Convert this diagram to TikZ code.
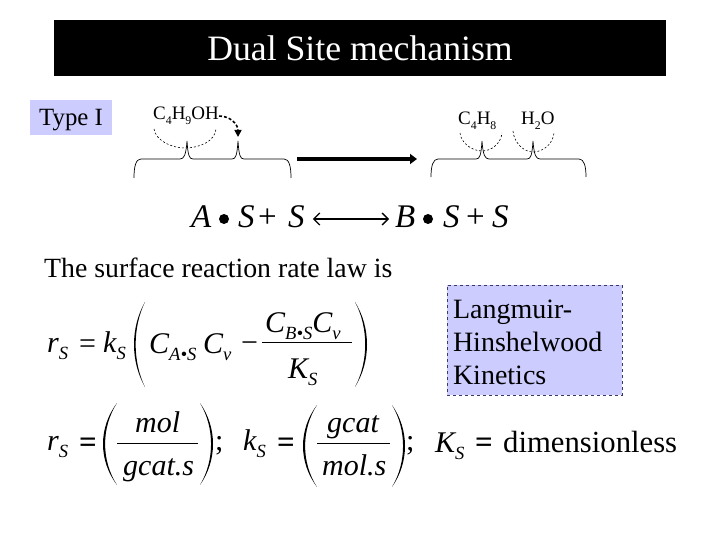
\documentclass[tikz,border=0pt]{standalone}
\usepackage{fontspec}
\setmainfont{Liberation Serif}
\usepackage{tikz}
\usetikzlibrary{calc,arrows.meta}
\definecolor{site-fill}{HTML}{CCCCFF}
\definecolor{site-edge}{HTML}{3A3A66}
\newcommand{\lowsub}[2][0.62]{\raisebox{-0.24em}{\scalebox{#1}{#2}}}
\newcommand{\tallparen}[4]{\fill (#1,#3) .. controls ($(#1,#3)!0.3!(#1,#4)+({(#2-#1)/0.75},0)$) and ($(#1,#3)!0.7!(#1,#4)+({(#2-#1)/0.75},0)$) .. (#1,#4) .. controls ($(#1,#3)!0.7!(#1,#4)+({(#2-#1)/0.75-(#2-#1)*0.2},0)$) and ($(#1,#3)!0.3!(#1,#4)+({(#2-#1)/0.75-(#2-#1)*0.2},0)$) .. (#1,#3) -- cycle;}
\tikzset{
    txt/.style={anchor=base west, inner sep=0pt, font=\fontsize{#1}{#1}\selectfont},
    eqn/.style={anchor=base west, inner sep=0pt, font=\fontsize{30}{30}\selectfont\itshape},
    rxn/.style={anchor=base west, inner sep=0pt, font=\fontsize{33}{33}\selectfont\itshape},
    heavy/.style={anchor=base west, inner sep=0pt, font=\fontsize{31}{31}\selectfont\bfseries},
    brace/.style={line width=0.7pt},
    arcdash/.style={line width=0.6pt, dash pattern=on 2pt off 2pt},
    fracbar/.style={line width=1pt},
}
\begin{document}
\begin{tikzpicture}[x=1pt,y=-1pt]
    \useasboundingbox (0,0) rectangle (720,540);
    \node[fill=black, text=white, inner sep=0pt, minimum width=612pt, minimum height=56pt, font=\fontsize{35.7}{36}\selectfont] (banner) at (360,48) {Dual Site mechanism};
    \node[fill=site-fill, inner sep=0pt, minimum width=82pt, minimum height=35pt, text height=22pt, text depth=6pt, font=\fontsize{24.8}{25}\selectfont] (typebox) at (71,117.5) {Type I};

    \node[txt=19] (alcohol) at (153,120) {C\lowsub{4}H\lowsub{9}OH};
    \node[txt=19] (butene) at (458,125) {C\lowsub{4}H\lowsub{8}};
    \node[txt=19] (water) at (521,125) {H\lowsub{2}O};

    \draw[arcdash] (154,129) .. controls (156,141) and (172,148) .. (185,148) .. controls (200,148) and (215,141) .. (216,129);
    \draw[arcdash] (460,133) .. controls (461,143) and (472,151) .. (482,151) .. controls (492,151) and (501,143) .. (502,133);
    \draw[arcdash] (513,131) .. controls (514,143) and (524,152) .. (533,152) .. controls (543,152) and (553,144) .. (554,133);

    \coordinate (sitepeak) at (238,137);
    \draw[line width=1.6pt, dash pattern=on 3pt off 2pt, -{Triangle[length=7pt,width=7pt]}] (alcohol.east) .. controls (230,116) and (238,124) .. (sitepeak);

    \draw[brace] (134,178) .. controls (134,166) and (136,159) .. (141,159) -- (180,159) .. controls (184,159) and (186,155) .. (187,141) .. controls (188,155) and (189,159) .. (193,159) -- (232,159) .. controls (236,159) and (237,155) .. (238,141) .. controls (239,155) and (240,159) .. (244,159) -- (284,159) .. controls (289,159) and (291,166) .. (291,178);
    \draw[brace] (431,177) .. controls (431,166) and (433,159) .. (438,159) -- (476,159) .. controls (480,159) and (481,155) .. (482,141) .. controls (483,155) and (485,159) .. (489,159) -- (527,159) .. controls (531,159) and (532,155) .. (533,141) .. controls (534,155) and (536,159) .. (540,159) -- (579,159) .. controls (584,159) and (586,166) .. (586,177);

    \coordinate (boldstart) at (297,159);
    \coordinate (boldend) at (417,159);
    \draw[line width=4pt, -{Triangle[length=7pt,width=10pt]}] (boldstart) -- (boldend);

    \node[rxn] (reacta) at (191,227) {A};
    \fill (224,219) circle (5);
    \node[rxn] (reacts) at (238,227) {S};
    \node[txt=33] (reactplus) at (258,227) {+};
    \node[rxn] (reactv) at (288,227) {S};
    \node[rxn] (prodb) at (395,227) {B};
    \fill (428,219) circle (5);
    \node[rxn] (prods) at (443,227) {S};
    \node[txt=33] (prodplus) at (466,227) {+};
    \node[rxn] (prodv) at (492,227) {S};
    \draw[line width=1.3pt, {Straight Barb[length=6pt,width=12pt]}-{Straight Barb[length=6pt,width=12pt]}] ($(reactv.east |- 0,219)+(8,0)$) -- ($(prodb.west |- 0,219)+(-6,0)$);

    \node[txt=27.8] (ratetext) at (44,277) {The surface reaction rate law is};

    \node[draw=site-edge, dashed, fill=site-fill, inner sep=0pt, minimum width=175pt, minimum height=110pt, text width=163pt, align=left, font=\fontsize{28}{33}\selectfont] (lhbox) at (534.5,340) {\rule{0pt}{24pt}Langmuir-\\Hinshelwood\\Kinetics};

    \node[eqn] (rone) at (47,352) {r\lowsub{S}};
    \node[txt=30] (eqone) at (79,353) {=};
    \node[eqn] (kone) at (103,352) {k\lowsub{S}};
    \tallparen{145}{134}{302}{387}
    \node[eqn] (cas) at (149,353) {C\lowsub{A\textbullet S}};
    \node[eqn] (cvone) at (203,353) {C\lowsub{v}};
    \node[txt=30] (minusone) at (241,352) {−};
    \node[eqn] (cbs) at (265,332) {C\lowsub{B\textbullet S}C\lowsub{v}};
    \draw[fracbar] (262,342) -- (352,342);
    \node[eqn] (ksbot) at (288,378) {K\lowsub{S}};
    \tallparen{355}{367}{302}{387}

    \node[eqn] (rtwo) at (47,450) {r\lowsub{S}};
    \node[heavy] (eqtwo) at (79,452) {=};
    \tallparen{117}{103}{403}{485}
    \node[eqn] (molone) at (135,432) {mol};
    \draw[fracbar] (117,443) -- (198,443);
    \node[eqn] (gcatone) at (123,475) {gcat.s};
    \tallparen{200}{213}{403}{485}
    \node[txt=30] (semione) at (215,450) {;};
    \node[eqn] (ktwo) at (243,450) {k\lowsub{S}};
    \node[heavy] (eqthree) at (277,452) {=};
    \tallparen{317}{303}{405}{487}
    \node[eqn] (gcattwo) at (327,432) {gcat};
    \draw[fracbar] (317,443) -- (390,443);
    \node[eqn] (moltwo) at (322,475) {mol.s};
    \tallparen{392}{405}{405}{487}
    \node[txt=30] (semitwo) at (406,450) {;};
    \node[eqn] (kthree) at (435,452) {K\lowsub{S}};
    \node[heavy] (eqfour) at (475,452) {=};
    \node[txt=30.7] (dimless) at (503,452) {dimensionless};
\end{tikzpicture}
\end{document}
